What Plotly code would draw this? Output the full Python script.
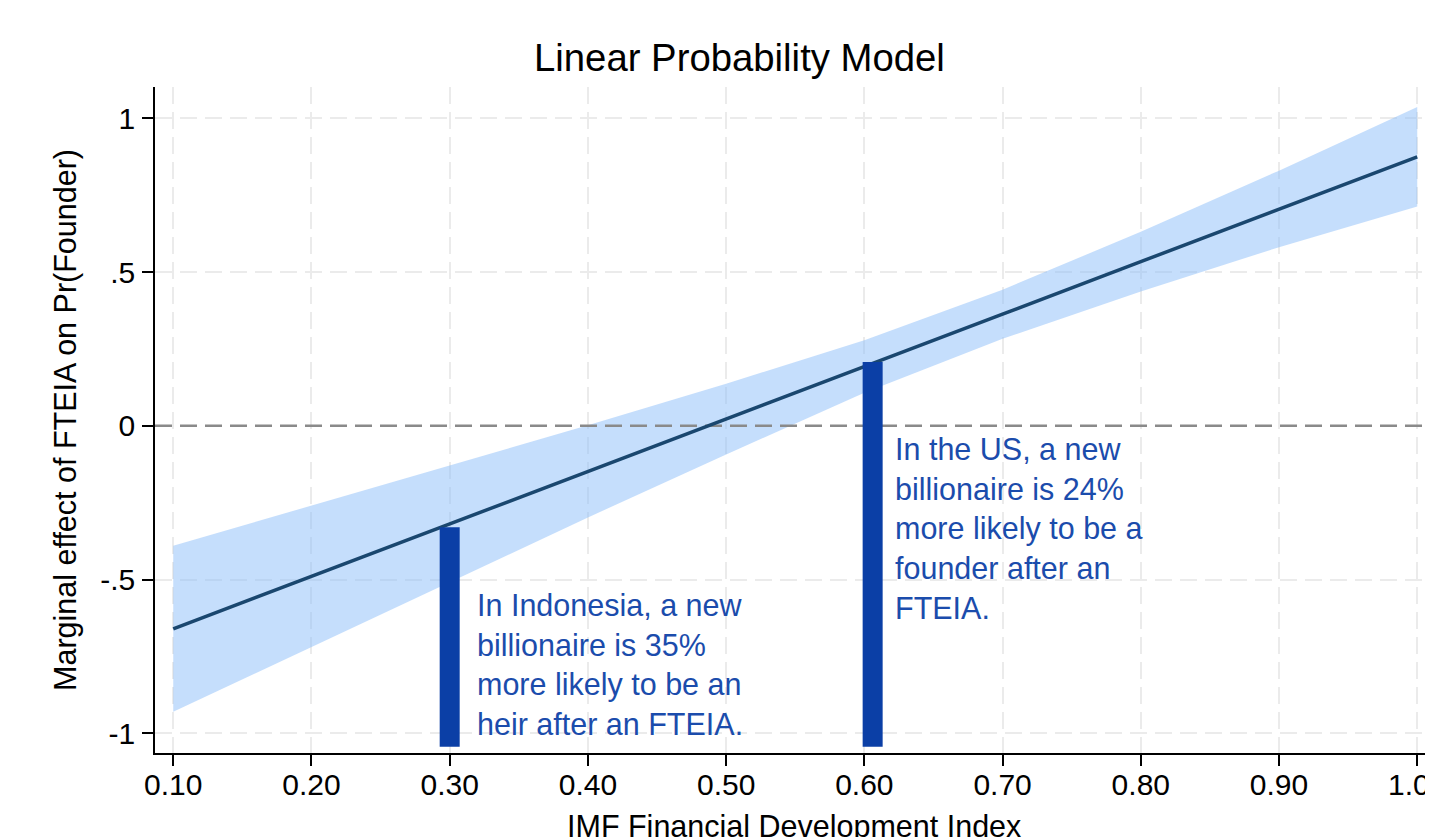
import plotly.graph_objects as go

# ---- data ----
fd_index = [0.10, 0.20, 0.30, 0.40, 0.50, 0.60, 0.70, 0.80, 0.90, 1.00]
marginal_effect = [-0.660, -0.490, -0.318, -0.148, 0.022, 0.193, 0.363, 0.534, 0.705, 0.875]
ci_upper = [-0.390, -0.260, -0.128, 0.002, 0.137, 0.278, 0.443, 0.631, 0.830, 1.037]
ci_lower = [-0.930, -0.720, -0.508, -0.298, -0.093, 0.108, 0.283, 0.437, 0.581, 0.713]

spike_x = [0.300, 0.606]          # Indonesia, US
spike_base = [-1.044, -1.044]
spike_top = [-0.330, 0.208]

x_ticks = [0.10, 0.20, 0.30, 0.40, 0.50, 0.60, 0.70, 0.80, 0.90, 1.00]
x_ticklabels = ["0.10", "0.20", "0.30", "0.40", "0.50", "0.60", "0.70", "0.80", "0.90", "1.00"]
y_ticks = [-1, -0.5, 0, 0.5, 1]
y_ticklabels = ["-1", "-.5", "0", ".5", "1"]

note_text = [
    "In Indonesia, a new<br>billionaire is 35%<br>more likely to be an<br>heir after an FTEIA.",
    "In the US, a new<br>billionaire is 24%<br>more likely to be a<br>founder after an<br>FTEIA.",
]
note_x = [0.318, 0.6206]
note_y = [-0.775, -0.334]

x_range = [0.0868, 1.0114]
y_range = [-1.064, 1.102]

FONT = "Liberation Sans, Arial, Helvetica, sans-serif"
NAVY = "#1a476f"
BAND = "rgba(140,190,250,0.5)"
SPIKE = "#0b3fa6"
NOTE = "#1b4cac"

fig = go.Figure()

# confidence band
fig.add_trace(go.Scatter(
    x=fd_index + fd_index[::-1],
    y=ci_upper + ci_lower[::-1],
    fill="toself", fillcolor=BAND, line=dict(width=0),
    mode="lines", hoverinfo="skip", showlegend=False,
))

# zero reference line
fig.add_trace(go.Scatter(
    x=x_range, y=[0, 0], mode="lines",
    line=dict(color="#8a8a8a", width=2.5, dash="17px,8px"),
    hoverinfo="skip", showlegend=False,
))

# fitted marginal effect
fig.add_trace(go.Scatter(
    x=fd_index, y=marginal_effect, mode="lines",
    line=dict(color=NAVY, width=3.5), showlegend=False,
))

# country spikes
for sx, sb, st in zip(spike_x, spike_base, spike_top):
    fig.add_trace(go.Scatter(
        x=[sx, sx], y=[sb, st], mode="lines",
        line=dict(color=SPIKE, width=20), showlegend=False,
    ))

for txt, xx, yy in zip(note_text, note_x, note_y):
    fig.add_annotation(
        x=xx, y=yy, xref="x", yref="y", text=txt, showarrow=False,
        xanchor="left", yanchor="middle", align="left",
        font=dict(family=FONT, size=30.5, color=NOTE),
    )

# x-axis title
fig.add_annotation(
    x=0.5, y=-0.081, xref="paper", yref="paper", xanchor="center", yanchor="top",
    text="IMF Financial Development Index", showarrow=False,
    font=dict(family=FONT, size=30.5, color="black"),
)

axis_common = dict(
    showline=True, linecolor="black", linewidth=1.5,
    ticks="outside", ticklen=11, tickwidth=1.5, tickcolor="black",
    showgrid=True, gridcolor="#ebebeb", gridwidth=1.5, griddash="17px,8px",
    zeroline=False, automargin=False, ticklabeloverflow="allow",
    tickfont=dict(family=FONT, size=30, color="black"),
)

fig.update_layout(
    width=1425, height=829,
    margin=dict(l=147, r=0, t=79, b=84, pad=0),
    plot_bgcolor="white", paper_bgcolor="white",
    font=dict(family=FONT, color="black"),
    title=dict(text="Linear Probability Model", x=0.5133, xanchor="center",
               xref="container", y=1 - 50 / 829, yref="container", yanchor="middle",
               font=dict(family=FONT, size=38.3, color="black")),
    xaxis=dict(range=x_range, tickvals=x_ticks, ticktext=x_ticklabels,
               ticklabelstandoff=-7, **axis_common),
    yaxis=dict(range=y_range, tickvals=y_ticks, ticktext=y_ticklabels,
               ticklabelstandoff=1,
               title=dict(text="Marginal effect of FTEIA on Pr(Founder)",
                          font=dict(family=FONT, size=30.5, color="black")),
               **axis_common),
)

fig.write_html("out.html")
